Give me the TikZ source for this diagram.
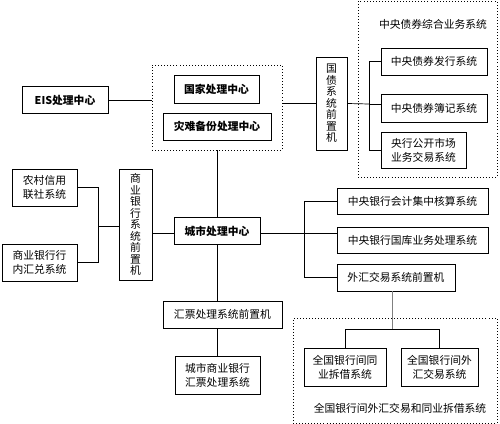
\documentclass[tikz,border=0pt]{standalone}
\usepackage{fontspec}
\setmainfont{Noto Sans CJK SC}
\usetikzlibrary{positioning}

\begin{document}
\begin{tikzpicture}[x=0.03cm, y=-0.03cm,
        box/.style={draw, line width=0.6pt, inner sep=0pt, align=center, font=\fontsize{9.2pt}{12pt}\selectfont},
        boldbox/.style={box, font=\fontsize{9.2pt}{12pt}\selectfont\bfseries},
        vbox/.style={box, font=\fontsize{9.2pt}{9.8pt}\selectfont},
        frame/.style={draw, dotted, line width=0.6pt, inner sep=0pt},
        label/.style={font=\fontsize{9.2pt}{12pt}\selectfont, inner sep=0pt},
        size/.style 2 args={minimum width=#1*0.03cm, minimum height=#2*0.03cm},
        link/.style={line width=0.6pt},
        graylink/.style={line width=0.6pt, gray}
    ]
    \useasboundingbox (0,0) rectangle (500,424);
    % Frames
    \node[frame, size={130}{85}] (natframe) at (217,107.5) {};
    \node[frame, size={139}{176}] (bondframe) at (427.5,89) {};
    \node[frame, size={204}{105}] (fxframe) at (395,370.5) {};
    \node[label] (bondtitle) at (433,24) {中央债券综合业务系统};
    \node[label] (fxtitle) at (400,408) {全国银行间外汇交易和同业拆借系统};

    % Nodes
    \node[boldbox, size={86}{27}] (eis) at (65,100) {EIS处理中心};
    \node[boldbox, size={85}{28}] (nat) at (216.5,89) {国家处理中心};
    \node[boldbox, size={108}{27}] (backup) at (217,126.5) {灾难备份处理中心};
    \node[vbox, size={31}{93}] (gzfront) at (331.5,103.5) {国\\债\\系\\统\\前\\置\\机};
    \node[box, size={106}{27}] (issue) at (434,61.5) {中央债券发行系统};
    \node[box, size={106}{28}] (book) at (434,108) {中央债券簿记系统};
    \node[box, size={85}{36}] (omo) at (423.5,150) {央行公开市场\\业务交易系统};
    \node[box, size={65}{37}] (rural) at (44.5,187.5) {农村信用\\联社系统};
    \node[box, size={75}{37}] (intra) at (39.5,262.5) {商业银行行\\内汇兑系统};
    \node[vbox, size={33}{111}] (cbfront) at (135.5,224.5) {商\\业\\银\\行\\系\\统\\前\\置\\机};
    \node[boldbox, size={86}{27}] (city) at (217,231) {城市处理中心};
    \node[box, size={151}{26}] (acct) at (412.5,201) {中央银行会计集中核算系统};
    \node[box, size={151}{26}] (treas) at (412.5,240) {中央银行国库业务处理系统};
    \node[box, size={118}{27}] (fxfront) at (396,277.5) {外汇交易系统前置机};
    \node[box, size={82}{38}] (ibl) at (345,367) {全国银行间同\\业拆借系统};
    \node[box, size={77}{38}] (fx) at (439.5,367) {全国银行间外\\汇交易系统};
    \node[box, size={119}{27}] (draftfront) at (222.5,314.5) {汇票处理系统前置机};
    \node[box, size={85}{38}] (draft) at (217.5,375) {城市商业银行\\汇票处理系统};

    % Forks
    \coordinate (bondfork) at (369,104);
    \coordinate (cbfork) at (98,226);
    \coordinate (cityfork) at (304,233);
    \coordinate (fxfork) at (392,329);

    % Arrows
    \draw[link] (eis.east) -- (eis.east -| natframe.west);
    \draw[link] (gzfront.west -| natframe.east) -- (gzfront.west);
    \draw[link] (gzfront.east) -- (bondfork);
    \draw[link] (issue.west) -- (issue.west -| bondfork) -- (omo.west -| bondfork) -- (omo.west);
    \draw[link] (bondfork) -- (bondfork -| book.west);
    \draw[link] (natframe.south) -- (city.north);
    \draw[link] (rural.east) -- (rural.east -| cbfork) -- (intra.east -| cbfork) -- (intra.east);
    \draw[link] (cbfork) -- (cbfork -| cbfront.west);
    \draw[link] (cbfront.east |- cityfork) -- (cityfork -| city.west);
    \draw[link] (cityfork -| city.east) -- (cityfork);
    \draw[link] (acct.west) -- (acct.west -| cityfork) -- (fxfront.west -| cityfork) -- (fxfront.west);
    \draw[link] (cityfork) -- (cityfork -| treas.west);
    \draw[link] (city.south) -- (city.south |- draftfront.north);
    \draw[link] (draft.north |- draftfront.south) -- (draft.north);
    \draw[graylink] (fxfork |- fxfront.south) -- (fxfork);
    \draw[link] (ibl.north) -- (ibl.north |- fxfork) -- (fx.north |- fxfork) -- (fx.north);

\end{tikzpicture}
\end{document}
